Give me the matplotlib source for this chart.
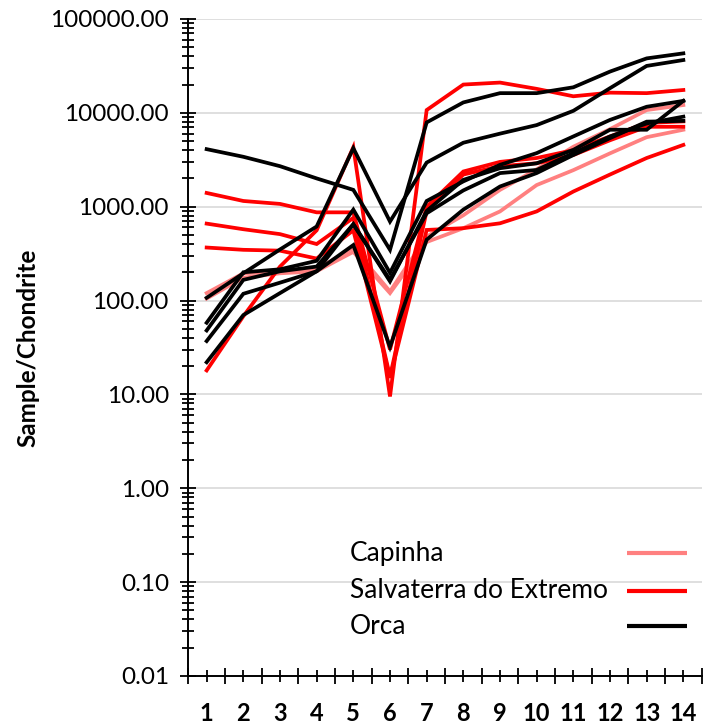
import numpy as np
import matplotlib.pyplot as plt
from matplotlib.ticker import FixedLocator, LogLocator, NullFormatter

# normalised values (sample/chondrite), elements 1..14
elements = list(range(1, 15))

capinha = [
    [120, 195, 205, 215, 365, 125, 480, 810, 1510, 2500, 4350, 6700, 10700, 12100],
    [105, 175, 195, 205, 330, 120, 420, 590, 890, 1700, 2450, 3700, 5500, 6600],
]
salvaterra = [
    [1400, 1150, 1070, 870, 870, 30, 1000, 2370, 3000, 3300, 4000, 5600, 7800, 8100],
    [660, 575, 510, 400, 760, 15.5, 900, 2200, 2700, 2900, 3550, 5100, 7100, 7100],
    [367, 347, 340, 280, 560, 15, 565, 590, 665, 890, 1450, 2200, 3300, 4550],
    [18, 68, 230, 560, 4300, 9.5, 10700, 20000, 21000, 18000, 15000, 16400, 16200, 17500],
]
orca = [
    [4100, 3400, 2700, 2000, 1510, 347, 7900, 12900, 16200, 16200, 18700, 27500, 38000, 43000],
    [107, 195, 350, 615, 4200, 694, 2950, 4800, 6000, 7400, 10500, 18300, 31600, 36500],
    [58, 200, 215, 265, 930, 197, 1150, 1860, 2790, 3720, 5600, 8400, 11600, 13400],
    [48, 166, 205, 230, 650, 166, 850, 1490, 2280, 2460, 3720, 5600, 7700, 9100],
    [37, 118, 155, 205, 650, 160, 900, 1930, 2570, 2900, 4030, 6600, 6600, 13400],
    [22, 70, 120, 205, 390, 32, 445, 930, 1640, 2280, 3550, 5370, 8050, 8200],
]

groups = ["Capinha", "Salvaterra do Extremo", "Orca"]
colors = ["#FF8080", "#FF0000", "#000000"]

plt.rcParams['font.family'] = ['Lato', 'DejaVu Sans']

fig = plt.figure(figsize=(7.12, 7.26), dpi=100)
ax = fig.add_axes([0.2645, 0.0689, 0.7210, 0.9050])

for data, col in zip([capinha, salvaterra, orca], colors):
    for row in data:
        ax.plot(elements, row, color=col, lw=2.7, solid_joinstyle='miter', zorder=3)

ax.set_yscale('log')
ax.set_ylim(0.01, 100000)
ax.set_xlim(0.5, 14.5)

yt = [0.01, 0.1, 1, 10, 100, 1000, 10000, 100000]
ax.set_yticks(yt)
ax.set_yticklabels(["%.2f" % v for v in yt], fontsize=17.5)
ax.yaxis.set_minor_locator(LogLocator(base=10, subs=np.arange(2, 10)))
ax.yaxis.set_minor_formatter(NullFormatter())
ax.tick_params(axis='y', which='major', direction='inout', length=12, width=1.3, pad=8)
ax.tick_params(axis='y', which='minor', direction='inout', length=9, width=1.3)

# category boundaries as major ticks, labels at the centres
ax.xaxis.set_major_locator(FixedLocator(np.arange(0.5, 15, 1)))
ax.set_xticklabels([])
ax.set_xticks(elements, [str(e) for e in elements], minor=True)
ax.tick_params(axis='x', which='major', direction='inout', length=12, width=1.3)
ax.tick_params(axis='x', which='minor', direction='inout', length=9, width=1.3, pad=14, labelsize=17)
for lab in ax.get_xticklabels(minor=True):
    lab.set_fontweight('bold')

ax.grid(axis='y', which='major', color='#D9D9D9', lw=1.2, zorder=0)
ax.set_axisbelow(True)
for s in ['top', 'right']:
    ax.spines[s].set_visible(False)
for s in ['left', 'bottom']:
    ax.spines[s].set_linewidth(1.4)

ax.set_ylabel("Sample/Chondrite", fontsize=17.5, fontweight='bold', labelpad=8)

# Excel-style legend: names on the left, line samples on the right
leg_y = [0.187, 0.130, 0.076]
for name, col, yy in zip(groups, colors, leg_y):
    ax.text(0.315, yy, name, transform=ax.transAxes, fontsize=19, va='center', ha='left')
    ax.plot([0.854, 0.971], [yy, yy], transform=ax.transAxes, color=col, lw=3,
            solid_capstyle='butt', clip_on=False)

fig.savefig("out.png", dpi=100)
